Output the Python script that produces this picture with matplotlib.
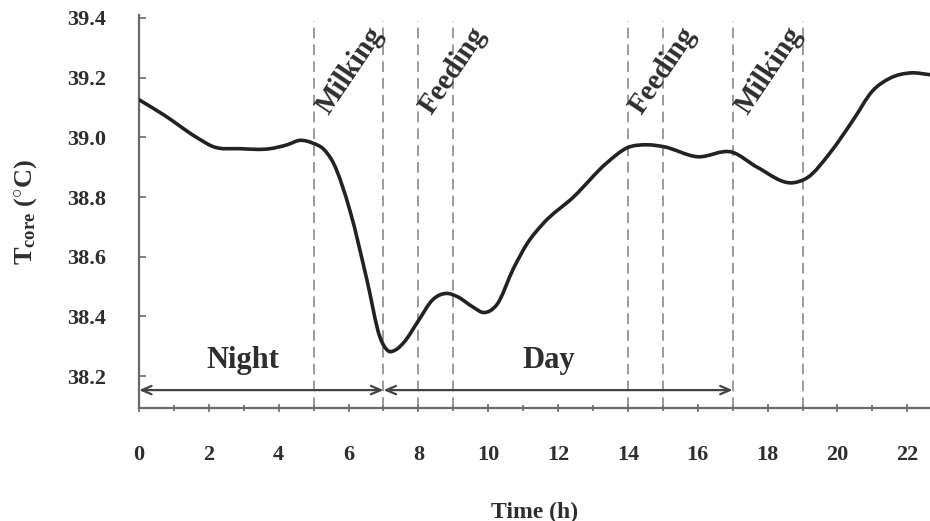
import numpy as np
import matplotlib
matplotlib.use("Agg")
import matplotlib.pyplot as plt
from matplotlib.path import Path
from matplotlib.patches import PathPatch

# Core body temperature over the day
hours = [0.0, 0.7, 1.66, 2.12, 2.9, 3.75, 4.24, 4.61, 4.99, 5.27, 5.56, 6.05,
         6.53, 6.9, 7.14, 7.35, 7.6, 7.97, 8.42, 8.82, 9.1, 9.58, 9.86, 10.25,
         10.72, 11.12, 11.58, 12.44, 13.4, 13.98, 14.56, 15.01, 15.99, 16.99,
         17.7, 18.74, 19.14, 19.8, 20.46, 21.0, 21.5, 22.1, 22.65]
t_core = [39.126, 39.076, 38.999, 38.969, 38.962, 38.962, 38.975, 38.99,
          38.98, 38.962, 38.915, 38.75, 38.52, 38.33, 38.284, 38.288, 38.315,
          38.38, 38.457, 38.477, 38.467, 38.43, 38.413, 38.44, 38.56, 38.645,
          38.712, 38.80, 38.915, 38.965, 38.975, 38.969, 38.935, 38.95,
          38.90, 38.848, 38.865, 38.95, 39.06, 39.155, 39.198, 39.216, 39.21]

event_hours = [5, 7, 8, 9, 14, 15, 17, 19]
event_labels = ["Milking", "Feeding", "Feeding", "Milking"]
event_label_x = [6.05, 9.0, 15.0, 18.05]
periods = [("Night", 0, 7), ("Day", 7, 17)]
period_label_x = [2.98, 11.72]
x_ticks = list(range(0, 23, 2))
y_ticks = [38.2, 38.4, 38.6, 38.8, 39.0, 39.2, 39.4]

SERIF = ["Liberation Serif", "DejaVu Serif"]
plt.rcParams["font.family"] = SERIF
plt.rcParams["font.weight"] = "bold"
plt.rcParams["mathtext.fontset"] = "custom"
plt.rcParams["mathtext.rm"] = "Liberation Serif:bold"
plt.rcParams["mathtext.bf"] = "Liberation Serif:bold"
plt.rcParams["mathtext.it"] = "Liberation Serif:bold"

TXT = "#2e2e2e"
AX = "#6a6a6a"

fig = plt.figure(figsize=(9.3, 5.21), dpi=100)
ax = fig.add_axes([0.1495, 0.2169, 0.8505, 0.7543])
ax.set_xlim(0, 22.65)
ax.set_ylim(38.093, 39.41)


def smooth_path(xs, ys):
    """Cubic Hermite curve through the points (non-uniform finite-difference
    slopes), written as Bezier segments."""
    x = np.asarray(xs, float)
    y = np.asarray(ys, float)
    n = len(x)
    h = np.diff(x)
    d = np.diff(y) / h
    m = np.empty(n)
    m[0], m[-1] = d[0], d[-1]
    for i in range(1, n - 1):
        m[i] = (h[i] * d[i - 1] + h[i - 1] * d[i]) / (h[i - 1] + h[i])
    verts = [(x[0], y[0])]
    codes = [Path.MOVETO]
    for i in range(n - 1):
        dx = h[i] / 3.0
        verts += [(x[i] + dx, y[i] + m[i] * dx),
                  (x[i + 1] - dx, y[i + 1] - m[i + 1] * dx),
                  (x[i + 1], y[i + 1])]
        codes += [Path.CURVE4] * 3
    return Path(verts, codes)


ax.add_patch(PathPatch(smooth_path(hours, t_core), facecolor="none",
                       edgecolor="#222222", lw=2.6, capstyle="round",
                       joinstyle="round", zorder=4))

# event markers
for h in event_hours:
    ax.plot([h, h], [38.093, 39.39], color="#808080", lw=1.1,
            linestyle=(0, (7, 4)), zorder=2)

for lab, xc in zip(event_labels, event_label_x):
    ax.text(xc, 39.225, lab, rotation=56, ha="center", va="center",
            fontsize=21, fontweight="bold", color=TXT,
            rotation_mode="anchor", zorder=5)

# night / day spans
arrow_y = 38.153
for (name, x0, x1), xc in zip(periods, period_label_x):
    ax.annotate("", xy=(x1, arrow_y), xytext=(x0, arrow_y),
                arrowprops=dict(arrowstyle="<->,head_length=0.7,head_width=0.3",
                                color="#444444", lw=1.6,
                                shrinkA=0, shrinkB=0), zorder=3)
    ax.text(xc, arrow_y + 0.1, name, ha="center", va="center",
            fontsize=22, fontweight="bold", color=TXT)

# axes styling
for s in ["top", "right"]:
    ax.spines[s].set_visible(False)
for s in ["left", "bottom"]:
    ax.spines[s].set_color(AX)
    ax.spines[s].set_linewidth(1.6)

ax.set_xticks(x_ticks)
ax.set_xticks(range(1, 23, 2), minor=True)
ax.set_yticks(y_ticks)
ax.set_xticklabels([str(v) for v in x_ticks])
ax.set_yticklabels([f"{v:.1f}" for v in y_ticks])
ax.tick_params(axis="x", which="both", direction="inout", length=6,
               color=AX, width=1.2, pad=24, labelsize=16, labelcolor=TXT)
ax.tick_params(axis="x", which="minor", length=4)
ax.tick_params(axis="y", which="both", direction="in", length=5,
               color=AX, width=1.2, pad=24, labelsize=16, labelcolor=TXT)
for lab in ax.get_xticklabels() + ax.get_yticklabels():
    lab.set_fontweight("bold")

ax.set_xlabel("Time (h)", fontsize=17, fontweight="bold", color=TXT,
              labelpad=26)
ax.set_ylabel(r"T$_{\mathrm{core}}$ ($^{\circ}$C)", fontsize=19,
              fontweight="bold", color=TXT, labelpad=20)

fig.savefig("out.png", dpi=100, facecolor="white")
